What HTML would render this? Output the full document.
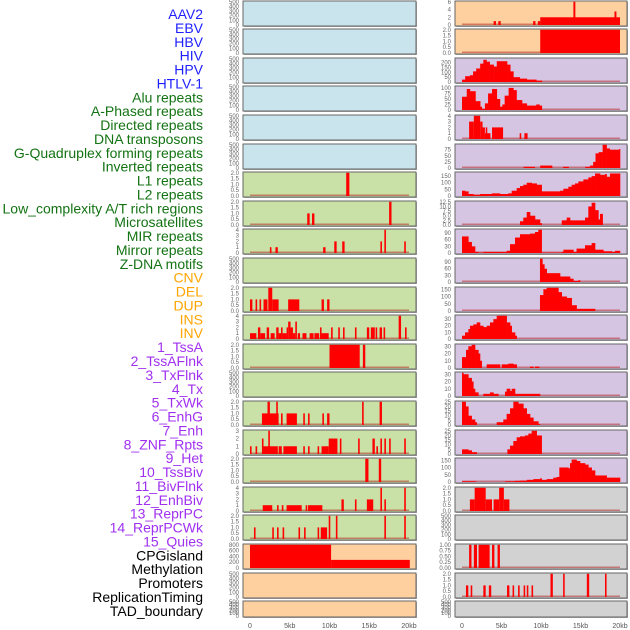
<!DOCTYPE html>
<html><head><meta charset="utf-8">
<style>
html,body{margin:0;padding:0;background:#fff;}
svg{display:block;font-family:"Liberation Sans",sans-serif;}
</style></head>
<body>
<svg id="chart" width="630" height="630" viewBox="0 0 630 630" xmlns="http://www.w3.org/2000/svg"></svg>
<script>
const labelNames = ["AAV2","EBV","HBV","HIV","HPV","HTLV-1","Alu repeats","A-Phased repeats","Directed repeats","DNA transposons","G-Quadruplex forming repeats","Inverted repeats","L1 repeats","L2 repeats","Low_complexity A/T rich regions","Microsatellites","MIR repeats","Mirror repeats","Z-DNA motifs","CNV","DEL","DUP","INS","INV","1_TssA","2_TssAFlnk","3_TxFlnk","4_Tx","5_TxWk","6_EnhG","7_Enh","8_ZNF_Rpts","9_Het","10_TssBiv","11_BivFlnk","12_EnhBiv","13_ReprPC","14_ReprPCWk","15_Quies","CPGisland","Methylation","Promoters","ReplicationTiming","TAD_boundary"];
const labelColors = [].concat(Array(6).fill("#1f1fff"),Array(13).fill("#137313"),Array(5).fill("#ffa500"),Array(15).fill("#a030f0"),Array(5).fill("#000"));
const xTickLabels = ["0","5kb","10kb","15kb","20kb"];
const xTickValues = [0,5,10,15,20];
const E5 = ["0","100","200","300","400","500"];
const T2 = ["0.0","0.5","1.0","1.5","2.0"];
// column 1 panels (rows 0..21)
const col1Max = [500,500,500,500,500,500,2,2,4,500,2,4,2,500,2,3,2,4,2,800,500,500];
const col1Ticks = [E5,E5,E5,E5,E5,E5,T2,T2,["0","1","2","3","4"],E5,T2,["0","1","2","3","4"],T2,E5,T2,["0","1","2","3"],T2,["0","1","2","3","4"],T2,["0","200","400","600","800"],E5,E5];
const col1Bg = ["#c9e4ec","#c9e4ec","#c9e4ec","#c9e4ec","#c9e4ec","#c9e4ec","#c9e1a6","#c9e1a6","#c9e1a6","#c9e1a6","#c9e1a6","#c9e1a6","#c9e1a6","#c9e1a6","#c9e1a6","#c9e1a6","#c9e1a6","#c9e1a6","#c9e1a6","#fed09f","#fed09f","#fed09f"];
const col1Bars = [[],[],[],[],[],[],
 [[12.1,12.5,2]],
 [[7.2,7.5,1],[7.8,8.1,1],[17.5,17.8,2]],
 [[2.5,2.7,1],[3.2,3.5,1],[9.2,9.5,1],[10.6,10.9,2],[11.6,11.9,2],[16.4,16.6,2],[16.9,17.1,4],[19.4,19.6,2]],
 [],
 [[0,0.3,1],[0.7,0.9,1],[1.2,1.4,1],[1.7,2.2,1],[2.3,2.8,2],[2.8,3.6,1],[4.8,6.2,1],[9.0,9.3,1],[9.7,10.0,1]],
 [[0,0.8,1],[1.0,1.3,2],[1.3,1.9,1],[2.1,2.4,2],[2.6,3.1,1],[3.3,3.6,2],[3.6,3.9,1],[3.9,4.1,2],[4.1,4.6,1],[4.6,4.8,2],[4.8,5.1,3],[5.1,5.4,2],[5.4,5.7,1],[5.7,5.9,3],[6.0,6.3,1],[6.6,7.1,1],[7.5,8.0,1],[8.1,8.7,1],[8.8,9.0,2],[9.0,9.9,1],[10.2,10.4,2],[11.1,11.3,2],[11.7,11.9,2],[13.2,13.4,2],[14.7,15.0,2],[15.2,15.7,2],[15.8,16.0,2],[16.3,16.6,2],[16.8,17.0,2],[18.7,19.0,4],[19.5,19.7,2]],
 [[10.0,13.8,2],[14.2,14.5,2]],
 [],
 [[1.5,3.6,1],[2.2,2.5,2],[3.3,3.5,2],[3.9,4.1,1],[4.6,5.9,1],[6.7,6.9,1],[7.3,7.5,1],[9.1,9.3,1],[9.7,10.0,1],[14.1,14.3,2],[16.3,16.6,2]],
 [[0,0.2,1],[0.7,0.9,1],[1.5,1.7,2],[1.7,3.5,1],[2.3,2.5,3],[3.6,4.0,1],[4.2,5.9,1],[6.7,6.9,1],[7.3,7.5,1],[8.5,8.7,1],[9.0,9.9,1],[9.9,11.0,2],[11.3,11.5,2],[13.6,13.8,2],[15.4,15.7,2],[15.9,16.1,1],[16.4,16.6,2],[16.9,17.1,2],[17.5,17.7,2],[19.4,19.6,2]],
 [[14.5,14.9,2],[16.2,16.5,2]],
 [[1.6,2.8,1],[3.4,3.6,1],[4.0,4.2,1],[4.6,6.5,1],[7.0,7.2,1],[7.3,9.1,1],[11.5,11.8,2],[13.2,13.4,2],[14.7,15.5,2],[16.4,16.6,4],[16.9,17.1,2],[19.4,19.6,4]],
 [[0.5,0.7,1],[2.8,3.0,1],[3.4,3.6,1],[4.1,4.3,1],[6.1,6.3,1],[6.8,7.0,1],[8.5,8.7,1],[8.9,9.7,1],[9.9,10.1,2],[10.8,11.0,2],[16.9,17.1,2],[19.4,19.6,2]],
 [[0,10.2,800],[10.2,20.1,280]],
 [],[]];
// column 2 panels (rows 0..21)
const col2Max = [6,2,240,105,4,95,175,12.5,105,105,160,35,32,32,25,25,160,2,500,1,2,500];
const col2Ticks = [["0","2","4","6"],T2,["0","50","100","150","200"],["0","25","50","75","100"],["0","1","2","3","4"],["0","25","50","75"],["0","50","100","150"],["0.0","2.5","5.0","7.5","10.0","12.5"],["0","30","60","90"],["0","30","60","90"],["0","50","100","150"],["0","10","20","30"],["0","10","20","30"],["0","10","20","30"],["0","5","10","15","20","25"],["0","5","10","15","20","25"],["0","50","100","150"],T2,E5,["0.00","0.25","0.50","0.75","1.00"],T2,E5];
const col2Bg = ["#fed09f","#fed09f","#d6c5e2","#d6c5e2","#d6c5e2","#d6c5e2","#d6c5e2","#d6c5e2","#d6c5e2","#d6c5e2","#d6c5e2","#d6c5e2","#d6c5e2","#d6c5e2","#d6c5e2","#d6c5e2","#d6c5e2","#d2d2d2","#d2d2d2","#d2d2d2","#d2d2d2","#d2d2d2"];
const col2Bars = [
 [[4.0,4.3,1],[4.6,4.9,1],[9.0,9.3,1],[9.6,9.9,1],[9.9,20,2],[14.1,14.35,6],[19.3,19.55,3.5]],
 [[9.9,20,2]],
 [],[],
 [[0.9,1.5,3],[1.5,2.3,4],[2.3,2.6,3],[2.6,2.9,2],[2.9,3.6,1],[3.0,3.2,2],[3.8,5.2,2],[7.3,7.5,1],[7.9,8.3,1]],
 [],[],[],[],[],[],[],[],[],[],[],[],
 [[1.0,1.6,1],[1.6,3.0,2],[3.0,3.8,1],[4.0,4.7,1],[4.7,5.3,2],[5.3,6.0,1]],
 [],
 [[0.9,1.2,1],[1.5,1.9,1],[2.1,3.5,1],[3.8,4.1,1],[4.5,4.8,1]],
 [[0.5,0.8,1],[1.1,1.3,1],[2.7,3.0,1],[3.4,3.7,1],[5.7,6.0,1],[6.4,6.6,1],[7.1,7.3,1],[7.8,8.0,1],[8.2,8.4,1],[8.8,9.0,1],[11.2,11.5,2],[12.8,13.0,2],[15.8,16.1,2],[18.1,18.3,2]],
 []];
const col2Curves = [[],[],
 [[0,25],[0.4,60],[1,70],[1.4,110],[1.8,140],[2.3,190],[2.7,230],[3.1,210],[3.5,180],[4,160],[4.4,215],[5,215],[5.7,180],[6.1,110],[6.5,50],[7.3,35],[8.2,25],[9.4,15],[10.1,0]],
 [[0,60],[0.6,95],[1,85],[1.7,40],[2.3,15],[2.5,5],[2.9,30],[3.3,75],[3.8,95],[4.4,50],[4.8,15],[5.1,25],[5.4,65],[5.9,100],[6.5,90],[6.9,45],[7.6,30],[8.2,20],[8.8,20],[9.4,25],[9.8,20],[10.1,0]],
 [],
 [[7.8,5],[9.2,0],[9.9,10],[11.4,0],[12.8,5],[13.5,0],[15.6,5],[16.2,10],[16.6,25],[16.9,60],[17.3,65],[17.8,95],[18.3,80],[18.7,75],[19.9,78],[20,0]],
 [[0,40],[0.38,35],[0.8,15],[1.43,10],[2.28,15],[3.76,20],[4.81,15],[5.86,20],[6.29,40],[6.92,60],[7.34,75],[7.76,85],[8.19,100],[8.82,95],[9.45,85],[10.08,35],[12.41,40],[12.83,55],[13.46,70],[13.88,85],[14.3,95],[14.73,110],[15.36,125],[15.99,140],[16.41,150],[16.84,170],[17.47,160],[18.1,165],[18.31,145],[18.73,170],[20,0]],
 [[7.34,2],[7.76,4],[8.19,7],[8.61,5],[9.24,3],[9.87,1],[10.08,0],[12.62,2.5],[13.25,4],[13.67,2.5],[15.57,4],[15.99,10],[16.41,12],[16.84,8],[17.26,3],[17.47,6],[17.8,0]],
 [[0,75],[0.8,50],[1.22,30],[1.65,5],[2.07,2],[2.7,5],[5.65,10],[6.08,40],[6.71,70],[7.34,85],[8.61,88],[9.24,95],[9.66,105],[10.08,2],[12.62,5],[12.83,15],[14.1,5],[14.5,20],[15.57,35],[16.41,45],[16.84,15],[17.89,8],[18.95,5],[19.37,10],[20,0]],
 [[9.87,105],[10.17,80],[10.42,60],[10.72,40],[12.41,25],[13.67,15],[14.09,5],[14.73,8],[14.94,0]],
 [[9.87,110],[10.3,150],[10.72,160],[12.2,130],[12.62,100],[13.25,90],[13.88,40],[14.5,15],[16.84,0]],
 [[0,5],[0.38,10],[0.8,15],[1.01,20],[1.43,22],[1.86,25],[2.28,20],[2.7,18],[3.12,20],[3.54,25],[3.97,30],[4.39,35],[5.23,35],[5.65,25],[6.08,20],[6.29,10],[6.71,5],[6.92,0]],
 [[0,15],[0.51,25],[0.8,30],[1.22,32],[1.65,25],[2.07,20],[2.28,10],[2.49,0],[3.12,5],[4.81,0],[5.02,5],[5.86,6],[6.5,5],[6.92,0],[8.61,2],[9.03,0],[9.24,2],[9.75,0]],
 [[0,32],[0.17,30],[0.8,25],[1.22,20],[1.43,10],[1.65,5],[2.07,0],[2.7,3],[3.54,5],[3.97,3],[4.6,0],[5.44,6],[5.65,10],[6.08,7],[6.29,10],[6.71,3],[9.87,0]],
 [[0,25],[0.46,20],[0.8,10],[1.22,6],[1.65,3],[1.86,0],[4.39,3],[5.23,6],[5.65,12],[6.08,18],[6.5,25],[7.13,23],[7.76,18],[8.19,12],[8.61,8],[9.03,4],[9.66,1],[9.87,0]],
 [[0,5],[0.8,4],[1.22,2],[1.86,0],[5.74,5],[6.08,9],[6.5,14],[6.92,18],[7.34,19],[7.97,20],[8.4,22],[8.82,25],[9.45,20],[10.08,0]],
 [[0,5],[1.77,0],[5.44,5],[6.71,8],[7.34,10],[8.19,15],[9.03,20],[9.87,25],[10.08,15],[10.72,20],[11.56,30],[11.98,35],[12.32,100],[13.46,95],[13.67,130],[13.88,155],[14.5,145],[14.94,130],[15.57,120],[15.99,100],[16.41,80],[16.84,45],[17.47,45],[18.31,30],[19.16,30],[20,0]],
 [],[],[],[],[]];

const NS="http://www.w3.org/2000/svg";
const svg=document.getElementById('chart');
function mk(tag,attrs,parent){const e=document.createElementNS(NS,tag);for(const k in attrs)e.setAttribute(k,attrs[k]);(parent||svg).appendChild(e);return e;}

// left labels
labelNames.forEach((name,i)=>{
  const t=mk('text',{x:203,y:19+i*13.88,'text-anchor':'end','font-size':'14',fill:labelColors[i]});
  
  
  t.textContent=name;
});

const rowTop=i=>Math.round(0.5+i*28.6);
const cols=[
 {px0:243,px1:416,d0:250,d1:409,tickX:239,max:col1Max,ticks:col1Ticks,bg:col1Bg,bars:col1Bars,curves:null,name:'left'},
 {px0:455,px1:627,d0:462,d1:620,tickX:451,max:col2Max,ticks:col2Ticks,bg:col2Bg,bars:col2Bars,curves:col2Curves,name:'right'}
];
cols.forEach(c=>{
  const xs=kb=>c.d0+(kb/20)*(c.d1-c.d0);
  for(let r=0;r<22;r++){
    const top=rowTop(r);
    const h=(r===21)?16:25;
    const y0=top+h-1, y1=top+0.8;
    const ys=v=>y0-(v/c.max[r])*(y0-y1);
    const g=mk('g',{});
    
    
    mk('rect',{x:c.px0+1,y:top+1,width:c.px1-c.px0,height:h,fill:'#aaa'},g);
    mk('rect',{x:c.px0,y:top,width:c.px1-c.px0,height:h,fill:c.bg[r],stroke:'#666','stroke-width':1},g);
    // ticks
    const tl=c.ticks[r];
    tl.forEach((lab,k)=>{
      const v=parseFloat(lab);
      const t=mk('text',{x:c.tickX,y:ys(v)+2,'text-anchor':'end','font-size':'6',fill:'#666'},g);
      
      
      t.textContent=lab;
    });
    const bars=c.bars[r]||[];
    const curve=c.curves?(c.curves[r]||[]):[];
    if(bars.length||curve.length){
      const base=mk('rect',{x:xs(0),y:y0-1.5,width:xs(20)-xs(0),height:1.5,fill:'rgba(180,30,30,0.5)'},g);
      
      
    }
    bars.forEach(b=>{
      const x=xs(b[0]),w=Math.max(1.2,xs(b[1])-xs(b[0]));
      const e=mk('rect',{x:x,y:ys(b[2]),width:w,height:y0-ys(b[2]),fill:'#ff0000'},g);
      
      
    });
    for(let k=0;k<curve.length-1;k++){
      const p=curve[k],q=curve[k+1];
      if(p[1]<=0)continue;
      const e=mk('rect',{x:xs(p[0]),y:ys(p[1]),width:xs(q[0])-xs(p[0])+0.3,height:y0-ys(p[1]),fill:'#ff0000'},g);
      
      
    }
  }
  xTickValues.forEach((v,k)=>{
    const t=mk('text',{x:xs(v),y:628,'text-anchor':'middle','font-size':'7',fill:'#555'});
    
    
    t.textContent=xTickLabels[k];
  });
});
</script>
</body></html>
